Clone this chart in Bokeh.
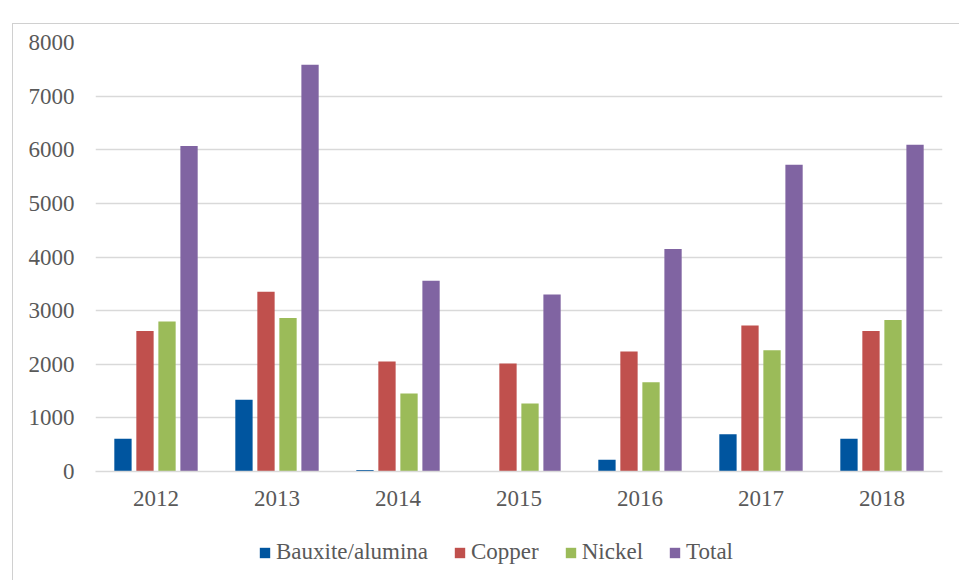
from bokeh.plotting import figure
from bokeh.layouts import column
from bokeh.models import (ColumnDataSource, FactorRange, Range1d, FixedTicker,
                          Legend, LegendItem)
from bokeh.transform import dodge
from bokeh.embed import file_html
from bokeh.resources import INLINE

# Annual values by commodity
years = ["2012", "2013", "2014", "2015", "2016", "2017", "2018"]
bauxite = [610, 1336, 30, 0, 218, 696, 610]
copper = [2622, 3354, 2050, 2013, 2236, 2721, 2622]
nickel = [2795, 2864, 1454, 1267, 1665, 2261, 2827]
total = [6070, 7585, 3559, 3299, 4150, 5721, 6094]

series_names = ["Bauxite/alumina", "Copper", "Nickel", "Total"]
series_cols = ["bauxite", "copper", "nickel", "total"]
series_colors = ["#00559F", "#C0504D", "#9BBB59", "#8064A2"]
offsets = [-0.273, -0.091, 0.091, 0.273]

FONT = "Liberation Serif"
TEXT = "#595959"
GRID = "#d9d9d9"

source = ColumnDataSource(dict(year=years, bauxite=bauxite, copper=copper,
                               nickel=nickel, total=total))

# main bar chart
p = figure(x_range=FactorRange(*years), y_range=Range1d(0, 8000),
           width=946, height=500, output_backend="svg", toolbar_location=None,
           min_border_left=82, min_border_right=17, min_border_top=18,
           min_border_bottom=53)
p.outline_line_color = None
p.background_fill_color = "white"
p.border_fill_color = "white"

for col, color, off in zip(series_cols, series_colors, offsets):
    p.vbar(x=dodge("year", off, range=p.x_range), top=col, width=0.143,
           source=source, fill_color=color, line_color=None)

p.yaxis.ticker = FixedTicker(ticks=list(range(0, 8001, 1000)))
p.yaxis.axis_line_color = None
p.yaxis.major_tick_line_color = None
p.yaxis.minor_tick_line_color = None
p.yaxis.major_tick_out = 0
p.yaxis.major_tick_in = 0
p.yaxis.major_label_standoff = 21
p.xaxis.axis_line_color = GRID
p.xaxis.axis_line_width = 1.5
p.xaxis.major_tick_line_color = None
p.xaxis.minor_tick_line_color = None
p.xaxis.major_tick_out = 0
p.xaxis.major_tick_in = 0
p.xaxis.major_label_standoff = 19
for ax in (p.xaxis, p.yaxis):
    ax.major_label_text_font = FONT
    ax.major_label_text_font_size = "23px"
    ax.major_label_text_color = TEXT

p.xgrid.grid_line_color = None
p.ygrid.grid_line_color = GRID
p.ygrid.grid_line_width = 1.5

# legend strip underneath; swatch glyphs sit outside the visible range
leg = figure(width=946, height=56, output_backend="svg", toolbar_location=None,
             x_range=Range1d(0, 1), y_range=Range1d(0, 1),
             min_border_left=0, min_border_right=0, min_border_top=0,
             min_border_bottom=0)
leg.axis.visible = False
leg.grid.visible = False
leg.outline_line_color = None
leg.border_fill_color = "white"

swatches = []
for color in series_colors:
    swatches.append(leg.vbar(x=[-10], top=[-10], width=0.1, fill_color=color,
                             line_color=None))

legend = Legend(items=[LegendItem(label=n, renderers=[r])
                       for n, r in zip(series_names, swatches)],
                orientation="horizontal", location=(163, 15),
                glyph_width=13, glyph_height=13, label_standoff=5, spacing=25,
                padding=0, margin=0, border_line_color=None,
                background_fill_alpha=0,
                label_text_font=FONT, label_text_font_size="23px",
                label_text_color=TEXT)
leg.add_layout(legend, "center")

layout = column(p, leg, spacing=0)
layout.styles = {"margin-left": "12px", "margin-top": "23px",
                 "border-left": "1px solid #d0d0d0",
                 "border-top": "1px solid #d0d0d0"}

open("out.html", "w").write(file_html(layout, INLINE))
